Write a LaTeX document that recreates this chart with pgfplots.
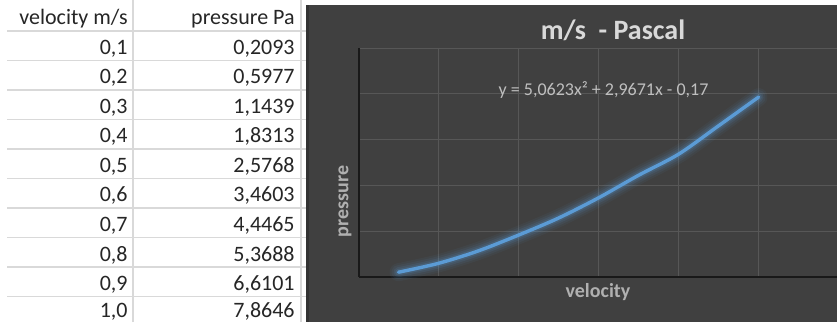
\documentclass[border=0pt]{standalone}
\usepackage{pgfplots}
\pgfplotsset{compat=1.18}
\usepackage{fontspec}
\setmainfont{Carlito}
\definecolor{chartbg}{HTML}{404040}
\definecolor{gridc}{HTML}{575757}
\definecolor{tline}{HTML}{D9D9D9}
\definecolor{curve}{HTML}{5B9BD5}
\definecolor{titlec}{HTML}{D9D9D9}
\definecolor{labc}{HTML}{B0B0B0}
\definecolor{eqc}{HTML}{BFBFBF}
\pgfplotstableread{
x y
0.1 0.2093
0.2 0.5977
0.3 1.1439
0.4 1.8313
0.5 2.5768
0.6 3.4603
0.7 4.4465
0.8 5.3688
0.9 6.6101
1.0 7.8646
}\datatable
\begin{document}
\begin{tikzpicture}[x=0.5pt,y=0.5pt]
\useasboundingbox (0,0) rectangle (837,322);
\clip (0,0) rectangle (837,322);
\fill[white] (0,0) rectangle (837,322);
% table grid
\foreach \k in {0,...,9} {
  \draw[tline, line width=0.6pt] (7,{291-29.5*\k}) -- (306,{291-29.5*\k});
}
\draw[tline, line width=0.6pt] (133,0) -- (133,322);
\draw[tline, line width=0.6pt] (301,0) -- (301,322);
% table text
\begin{scope}[every node/.style={inner sep=0pt, anchor=base east, font=\fontsize{11}{13}\selectfont, text=black!85}]
\node at (128,297) {velocity m/s};
\node at (295,297) {pressure Pa};
\node at (128,267.5) {0,1}; \node at (295,267.5) {0,2093};
\node at (128,238) {0,2}; \node at (295,238) {0,5977};
\node at (128,208.5) {0,3}; \node at (295,208.5) {1,1439};
\node at (128,179) {0,4}; \node at (295,179) {1,8313};
\node at (128,149.5) {0,5}; \node at (295,149.5) {2,5768};
\node at (128,120) {0,6}; \node at (295,120) {3,4603};
\node at (128,90.5) {0,7}; \node at (295,90.5) {4,4465};
\node at (128,61) {0,8}; \node at (295,61) {5,3688};
\node at (128,31.5) {0,9}; \node at (295,31.5) {6,6101};
\node at (128,4) {1,0}; \node at (295,4) {7,8646};
\end{scope}
% chart background
\fill[chartbg] (306,0) rectangle (837,317);
\fill[black!80] (306,0) rectangle (308.5,317);
\begin{axis}[
  at={(179.25pt,22.5pt)}, anchor=south west,
  scale only axis, width=239.25pt, height=114.375pt,
  xmin=0, xmax=1.196, ymin=0, ymax=10,
  xtick={0,0.2,...,1.2}, ytick={0,2,...,10},
  xticklabels={}, yticklabels={},
  major tick length=0pt,
  grid=major, major grid style={gridc, line width=0.5pt},
  axis x line=bottom, axis y line=left,
  axis line style={-, black!90, line width=1pt},
  clip=false,
]
\addplot[curve, smooth, line width=9pt, line cap=round, opacity=0.06] table {\datatable};
\addplot[curve, smooth, line width=7pt, line cap=round, opacity=0.08] table {\datatable};
\addplot[curve, smooth, line width=5pt, line cap=round, opacity=0.12] table {\datatable};
\addplot[curve, smooth, line width=3.2pt, line cap=round, opacity=0.18] table {\datatable};
\addplot[curve, smooth, line width=1.7pt, line cap=round] table {\datatable};
\end{axis}
% texts
\node[anchor=base, inner sep=0pt, text=titlec, font=\fontsize{14}{16}\selectfont\bfseries] at (613,282) {m/s\ \ - Pascal};
\node[anchor=base, inner sep=0pt, text=eqc, font=\fontsize{9}{11}\selectfont] at (603.5,226) {y = 5,0623x² + 2,9671x - 0,17};
\node[anchor=center, inner sep=0pt, rotate=90, text=labc, font=\fontsize{10}{12}\selectfont\bfseries] at (345,120.5) {pressure};
\node[anchor=base, inner sep=0pt, text=labc, font=\fontsize{10}{12}\selectfont\bfseries] at (598,25) {velocity};
\end{tikzpicture}
\end{document}
